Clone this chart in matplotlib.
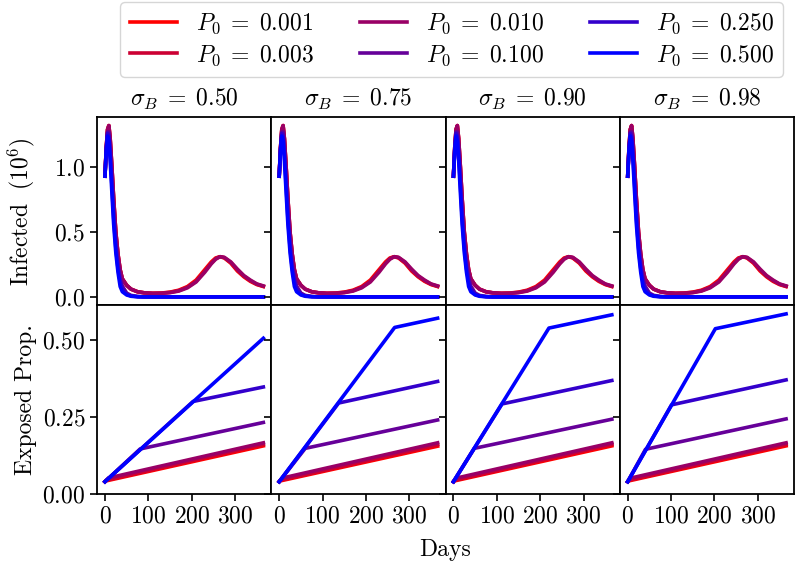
import matplotlib
matplotlib.use("Agg")
import matplotlib.pyplot as plt

# Computer Modern look
plt.rcParams['font.family'] = 'serif'
plt.rcParams['font.serif'] = ['cmr10', 'DejaVu Serif']
plt.rcParams['mathtext.fontset'] = 'cm'
plt.rcParams['axes.formatter.use_mathtext'] = True
plt.rcParams['font.size'] = 17

sigma_b = [0.50, 0.75, 0.90, 0.98]
p0_values = [0.001, 0.003, 0.010, 0.100, 0.250, 0.500]
colors = ['#ff0000', '#cc0033', '#990066', '#660099', '#3300cc', '#0000ff']

# infected curves (millions), same in every panel
days = [0, 3, 6, 9, 12, 16, 20, 25, 30, 35, 40, 50, 60, 75, 90, 110, 130,
        150, 170, 190, 210, 230, 245, 255, 265, 275, 290, 305, 320, 335, 350, 365]
inf_p001 = [0.93, 1.15, 1.29, 1.32, 1.22, 1.00, 0.76, 0.50, 0.33, 0.21, 0.14, 0.09, 0.06,
            0.04, 0.032, 0.028, 0.03, 0.037, 0.052, 0.08, 0.13, 0.21, 0.27, 0.30, 0.31,
            0.30, 0.26, 0.20, 0.155, 0.12, 0.095, 0.08]
inf_p003 = [0.93, 1.15, 1.29, 1.32, 1.22, 1.00, 0.76, 0.50, 0.33, 0.21, 0.14, 0.09, 0.06,
            0.04, 0.032, 0.028, 0.029, 0.035, 0.048, 0.075, 0.12, 0.20, 0.26, 0.295, 0.31,
            0.303, 0.265, 0.207, 0.16, 0.125, 0.098, 0.082]
inf_p010 = [0.93, 1.15, 1.29, 1.32, 1.22, 1.00, 0.76, 0.50, 0.33, 0.21, 0.14, 0.09, 0.06,
            0.04, 0.032, 0.027, 0.028, 0.033, 0.045, 0.07, 0.115, 0.19, 0.255, 0.29, 0.31,
            0.305, 0.27, 0.215, 0.165, 0.13, 0.10, 0.085]
inf_p100 = [0.93, 1.14, 1.27, 1.27, 1.15, 0.92, 0.67, 0.43, 0.26, 0.15, 0.085, 0.03, 0.012,
            0.004, 0.001, 0, 0, 0, 0, 0, 0, 0, 0, 0, 0, 0, 0, 0, 0, 0, 0, 0]
inf_p250 = [0.93, 1.13, 1.26, 1.24, 1.10, 0.86, 0.61, 0.38, 0.22, 0.12, 0.065, 0.02, 0.008,
            0.002, 0, 0, 0, 0, 0, 0, 0, 0, 0, 0, 0, 0, 0, 0, 0, 0, 0, 0]
inf_p500 = [0.93, 1.13, 1.24, 1.20, 1.05, 0.80, 0.56, 0.34, 0.19, 0.08, 0.04, 0.015, 0.005,
            0.001, 0, 0, 0, 0, 0, 0, 0, 0, 0, 0, 0, 0, 0, 0, 0, 0, 0, 0]
infected = [inf_p001, inf_p003, inf_p010, inf_p100, inf_p250, inf_p500]

# exposed proportion: start value, kink (day, value) per panel, end value per panel
exp_start = 0.04
kink_day = [[1, 1, 1, 1],
            [3, 3, 3, 3],
            [8, 8, 8, 8],
            [81, 60, 48, 41],
            [203, 137, 112, 101],
            [200, 266, 220, 202]]
kink_val = [[0.042, 0.042, 0.042, 0.042],
            [0.045, 0.045, 0.045, 0.045],
            [0.052, 0.052, 0.052, 0.052],
            [0.146, 0.148, 0.148, 0.145],
            [0.300, 0.295, 0.292, 0.289],
            [0.295, 0.540, 0.538, 0.536]]
end_val = [[0.156, 0.155, 0.156, 0.156],
           [0.161, 0.160, 0.161, 0.161],
           [0.166, 0.166, 0.166, 0.166],
           [0.232, 0.240, 0.2425, 0.2435],
           [0.347, 0.365, 0.368, 0.370],
           [0.505, 0.570, 0.581, 0.584]]

fig, axes = plt.subplots(2, 4, sharex=True, sharey='row', figsize=(7.98, 5.66), dpi=100)
fig.subplots_adjust(left=0.1216, right=0.995, top=0.7933, bottom=0.1272, wspace=0, hspace=0)

lw = 2.6
for j, sb in enumerate(sigma_b):
    ax_top = axes[0, j]
    ax_bot = axes[1, j]
    for i, p0 in enumerate(p0_values):
        ax_top.plot(days, infected[i], color=colors[i], lw=lw,
                    label=r'$P_0\;=\;%.3f$' % p0)
        ax_bot.plot([0, kink_day[i][j], 365],
                    [exp_start, kink_val[i][j], end_val[i][j]],
                    color=colors[i], lw=lw)
    ax_top.set_title(r'$\sigma_B\;=\;%.2f$' % sb, fontsize=17, pad=8)

axes[0, 0].set_yticks([0.0, 0.5, 1.0])
axes[1, 0].set_yticks([0.0, 0.25, 0.5])
axes[1, 0].set_ylim(bottom=0)
axes[1, 0].set_xticks([0, 100, 200, 300])
for ax in axes.flat:
    ax.tick_params(labelsize=17, width=1.2, length=5)
    for s in ax.spines.values():
        s.set_linewidth(1.3)

axes[0, 0].set_ylabel(r'Infected $\;(10^6)$', fontsize=17)
axes[1, 0].set_ylabel('Exposed Prop.', fontsize=17)
fig.align_ylabels(axes[:, 0])

fig.text(0.558, 0.028, 'Days', ha='center', va='center', fontsize=17)

handles, labels = axes[0, 0].get_legend_handles_labels()
fig.legend(handles, labels, ncol=3, loc='upper center', bbox_to_anchor=(0.566, 1.004),
           fontsize=17, columnspacing=1.95, handletextpad=0.8, handlelength=2.0,
           labelspacing=0.3, borderaxespad=0.2)

fig.savefig('out.png', dpi=100)
